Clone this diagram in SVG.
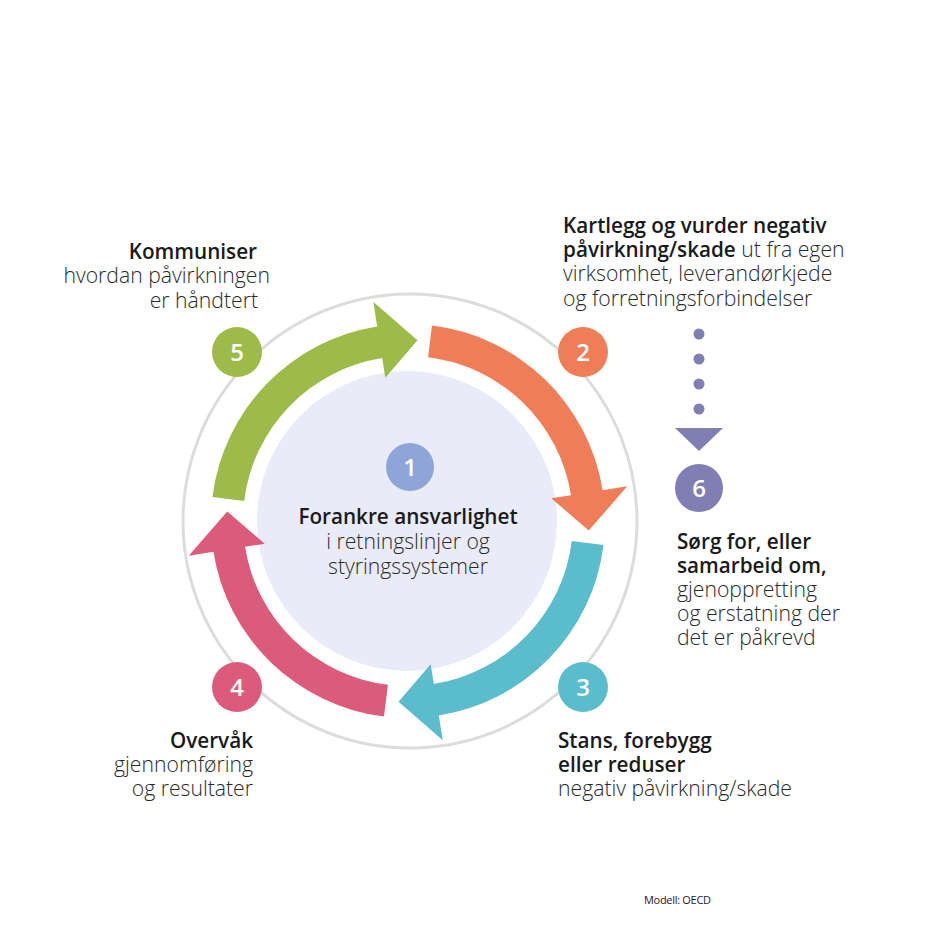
<svg xmlns="http://www.w3.org/2000/svg" xmlns:xlink="http://www.w3.org/1999/xlink" width="940" height="940" viewBox="0 0 940 940">
<style>
text{font-family:"Open Sans","Noto Sans","Liberation Sans",sans-serif;fill:#1a1a1a;font-size:20.7px}
.b{font-weight:600}
.l{font-weight:300;fill:#2a2a2a;font-size:21.2px}
.num{font-weight:600;fill:#fff;font-size:24px;text-anchor:middle}
.e{text-anchor:end}
.m{text-anchor:middle}
</style>
<defs>
<path id="arrow" d="M 212.47 496.99 A 197 197 0 0 1 377.18 326.43 L 373.27 301.73 L 417.47 340.25 L 385.32 377.78 L 382.19 358.03 A 165 165 0 0 0 244.23 500.89 Z"/>
</defs>
<rect width="940" height="940" fill="#fff"/>
<circle cx="410" cy="521" r="227" fill="none" stroke="#dcdcdc" stroke-width="3"/>
<g id="center">
<circle cx="407" cy="521" r="150" fill="#e9ebf8"/>
<circle cx="410" cy="467" r="24" fill="#8fa5d8"/>
<text class="num" x="410" y="476">1</text>
<text class="b m" x="408" y="524">Forankre ansvarlighet</text>
<text class="l m" x="408" y="549">i retningslinjer og</text>
<text class="l m" x="408" y="574">styringssystemer</text>
</g>
<g id="connectors">
<use xlink:href="#arrow" fill="#9dbb49"/>
<use xlink:href="#arrow" fill="#ee7d58" transform="rotate(90 408 521)"/>
<use xlink:href="#arrow" fill="#5bbccb" transform="rotate(180 408 521)"/>
<use xlink:href="#arrow" fill="#dc5b7b" transform="rotate(270 408 521)"/>
<g fill="#7f7fb3">
<circle cx="699" cy="334" r="5.5"/>
<circle cx="699" cy="359" r="5.5"/>
<circle cx="699" cy="384" r="5.5"/>
<circle cx="699" cy="409" r="5.5"/>
<polygon points="675,428 723,428 699,451"/>
</g>
</g>
<g id="step5">
<circle cx="237" cy="352" r="25" fill="#9dbb49"/>
<text class="num" x="237" y="361">5</text>
<text class="b e" x="257" y="259">Kommuniser</text>
<text class="l e" x="270" y="283">hvordan påvirkningen</text>
<text class="l e" x="258" y="308">er håndtert</text>
</g>
<g id="step2">
<circle cx="583" cy="352" r="25" fill="#ee7d58"/>
<text class="num" x="583" y="361">2</text>
<text class="b" x="563" y="233">Kartlegg og vurder negativ</text>
<text x="563" y="257"><tspan class="b">påvirkning/skade</tspan><tspan class="l"> ut fra egen</tspan></text>
<text class="l" x="563" y="281">virksomhet, leverandørkjede</text>
<text class="l" x="563" y="306">og forretningsforbindelser</text>
</g>
<g id="step6">
<circle cx="699" cy="488" r="24" fill="#7f7fb3"/>
<text class="num" x="699" y="497">6</text>
<text class="b" x="677" y="549">Sørg for, eller</text>
<text class="b" x="677" y="573">samarbeid om,</text>
<text class="l" x="677" y="597">gjenoppretting</text>
<text class="l" x="677" y="621">og erstatning der</text>
<text class="l" x="677" y="645">det er påkrevd</text>
</g>
<g id="step3">
<circle cx="583" cy="687" r="25" fill="#5bbccb"/>
<text class="num" x="583" y="696">3</text>
<text class="b" x="558" y="748">Stans, forebygg</text>
<text class="b" x="558" y="772">eller reduser</text>
<text class="l" x="558" y="796">negativ påvirkning/skade</text>
</g>
<g id="step4">
<circle cx="237" cy="687" r="25" fill="#dc5b7b"/>
<text class="num" x="237" y="696">4</text>
<text class="b e" x="253" y="748">Overvåk</text>
<text class="l e" x="253" y="772">gjennomføring</text>
<text class="l e" x="253" y="796">og resultater</text>
</g>
<text x="644" y="904" style="font-size:11px;letter-spacing:-0.3px">Modell: OECD</text>
</svg>
